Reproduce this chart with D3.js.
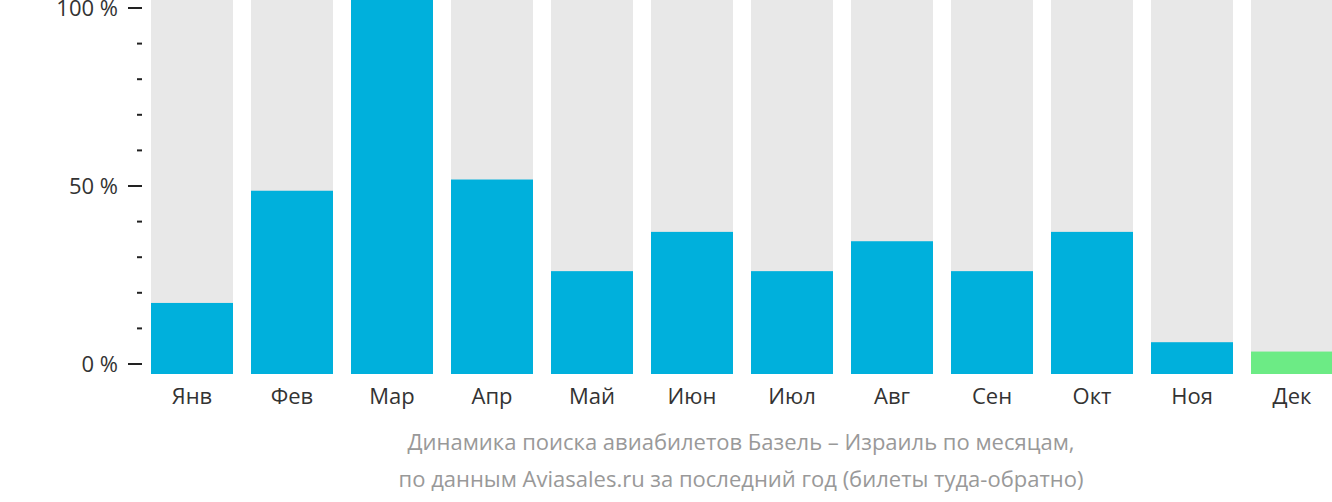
<!DOCTYPE html>
<html><head><meta charset="utf-8">
<script src="https://cdn.jsdelivr.net/npm/d3@7"></script>
<style>body{margin:0;background:#fff}text{font-family:"Open Sans","Noto Sans",sans-serif}</style>
</head><body><svg id="chart" width="1332" height="502"></svg>
<script>
var months = ["Янв","Фев","Мар","Апр","Май","Июн","Июл","Авг","Сен","Окт","Ноя","Дек"];
var values = [19, 49, 100, 52, 27.5, 38, 27.5, 35.5, 27.5, 38, 8.5, 6];
var tickValues = [0, 10, 20, 30, 40, 50, 60, 70, 80, 90, 100];
var captionLines = ["Динамика поиска авиабилетов Базель – Израиль по месяцам,",
  "по данным Aviasales.ru за последний год (билеты туда-обратно)"];

var svg = d3.select("#chart");
var x = d3.scaleBand().domain(months).range([142, 1342]).paddingInner(0.18).paddingOuter(0.09);
var yBar = d3.scaleLinear().domain([0, 100]).range([374, 0]);
var yAxis = d3.scaleLinear().domain([0, 100]).range([364, 8]);

svg.selectAll(".bg").data(months).enter().append("rect")
  .attr("x", function (d) { return x(d); }).attr("width", x.bandwidth())
  .attr("y", 0).attr("height", 374).attr("fill", "#e8e8e8");

svg.selectAll(".bar").data(values).enter().append("rect")
  .attr("x", function (d, i) { return x(months[i]); }).attr("width", x.bandwidth())
  .attr("y", function (d) { return yBar(d); })
  .attr("height", function (d) { return 374 - yBar(d); })
  .attr("fill", function (d, i) { return i === 11 ? "#6ceb85" : "#00b0dc"; });

var ax = svg.append("g");
ax.selectAll("line").data(tickValues).enter().append("line")
  .attr("x1", function (d) { return d % 50 === 0 ? 128 : 137; }).attr("x2", 142)
  .attr("y1", function (d) { return yAxis(d); }).attr("y2", function (d) { return yAxis(d); })
  .attr("stroke", "#222").attr("stroke-width", 2);
ax.selectAll("text").data(tickValues.filter(function (d) { return d % 50 === 0; })).enter().append("text")
  .attr("x", 118).attr("y", function (d) { return yAxis(d); }).attr("dy", "0.35em")
  .attr("text-anchor", "end").attr("font-size", 22).attr("fill", "#333")
  .text(function (d) { return d + " %"; });

svg.selectAll(".xl").data(months).enter().append("text")
  .attr("x", function (d) { return x(d) + x.bandwidth() / 2; }).attr("y", 404)
  .attr("text-anchor", "middle").attr("font-size", 22).attr("fill", "#333")
  .text(function (d) { return d; });

svg.selectAll(".cap").data(captionLines).enter().append("text")
  .attr("x", 741).attr("y", function (d, i) { return 450 + i * 37; })
  .attr("text-anchor", "middle").attr("font-size", 22).attr("fill", "#999")
  .text(function (d) { return d; });
</script></body></html>
